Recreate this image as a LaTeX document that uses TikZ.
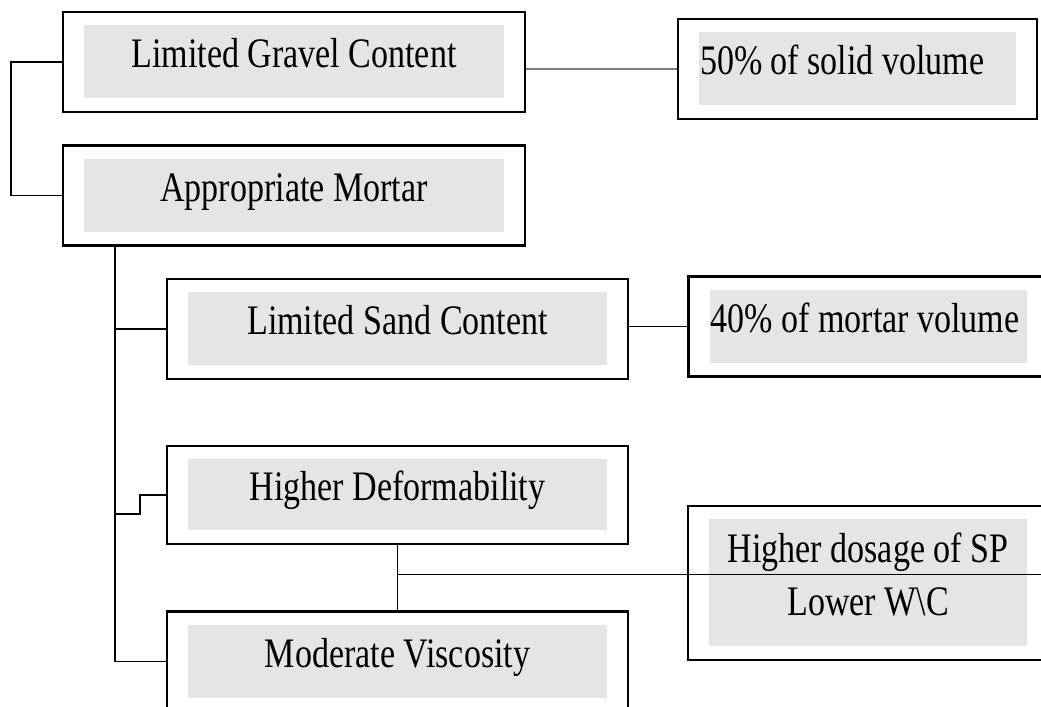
\documentclass[tikz,border=0pt]{standalone}
\usepackage{fontspec}
\setmainfont{Liberation Serif}[FakeStretch=0.81]
\usetikzlibrary{calc}
\definecolor{boxgrey}{RGB}{229,229,229}
\definecolor{linkgrey}{RGB}{125,125,125}

\begin{document}
\begin{tikzpicture}[
	box/.style={draw, line width=1.2pt, minimum width=9.22cm, minimum height=2cm,
		inner xsep=0.44cm, text height=0.58cm, text depth=0.34cm,
		font=\fontsize{23.9}{29.6}\selectfont,
		path picture={\fill[boxgrey] ([shift={(0.42,0.27)}]path picture bounding box.south west)
			rectangle ([shift={(-0.42,-0.27)}]path picture bounding box.north east);}},
	leftbox/.style={box, minimum width=7.18cm, text width=6.3cm, align=flush left},
	link/.style={line width=1.1pt},
	greylink/.style={link, draw=linkgrey, line width=1.4pt}]
	\useasboundingbox (0,0) rectangle (20.82,14.12);
	\clip (0,0) rectangle (20.82,14.12);

	% left column
	\node[box, minimum width=9.24cm] (gravel) at (5.88,12.88) {Limited Gravel Content};
	\node[box, minimum width=9.24cm] (mortar) at (5.88,10.21) {Appropriate Mortar};
	\node[box] (sand) at (7.95,7.54) {Limited Sand Content};
	\node[box, minimum height=1.96cm] (deform) at (7.95,4.22) {Higher Deformability};
	\node[box] (visc) at (7.95,0.89) {Moderate Viscosity};

	% right column
	\node[leftbox] (solid) at (17.15,12.74) {\mbox{50\% of solid volume}};
	\node[leftbox] (mortvol) at (17.36,7.59) {\mbox{40\% of mortar volume}};
	\node[box, minimum width=7.2cm, minimum height=3.08cm, text width=6.32cm, align=flush center,
		text depth=1.38cm] (dosage) at (17.36,2.46) {Higher dosage of SP\\Lower W\textbackslash C};

	% connectors
	\draw[link] (gravel.west) -- ++(-1.02,0) |- (mortar.west);
	\draw[greylink] (gravel.east |- solid.west) -- (solid.west);
	\coordinate (trunk) at ($(mortar.south west)+(1.06,0)$);
	\draw[link] (trunk) |- (visc.west);
	\draw[link] (trunk |- sand.west) -- (sand.west);
	\draw[link] ($(trunk |- deform.west)+(0,-0.38)$) -- ++(0.5,0) |- (deform.west);
	\draw[link] (sand.east |- mortvol.west) -- (mortvol.west);
	\draw[link] (deform.south) -- (visc.north);
	\coordinate (split) at ($(deform.south)!0.45!(visc.north)$);
	\draw[link] (split) -- (split -| dosage.east);
\end{tikzpicture}
\end{document}
